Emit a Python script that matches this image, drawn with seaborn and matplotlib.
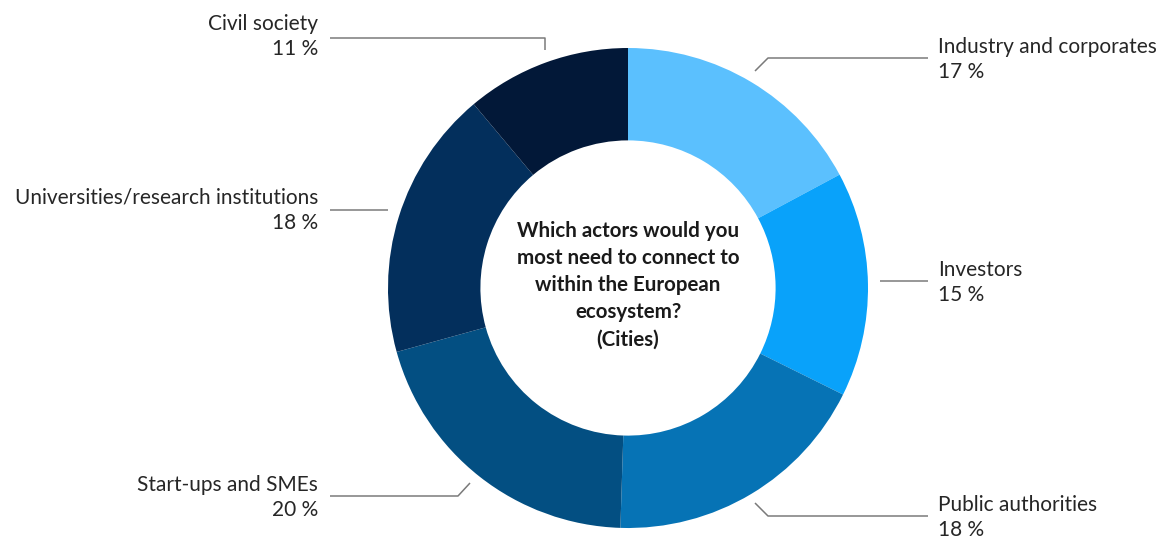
import matplotlib
matplotlib.use("Agg")
import matplotlib.pyplot as plt
import seaborn as sns

# Survey shares, clockwise from 12 o'clock
categories = ["Industry and corporates", "Investors", "Public authorities",
              "Start-ups and SMEs", "Universities/research institutions", "Civil society"]
shares = [17, 15, 18, 20, 18, 11]
colors = ["#5bc0fe", "#09a2fa", "#0673b5", "#034f82", "#032f5c", "#021838"]
center_title = "Which actors would you\nmost need to connect to\nwithin the European\necosystem?\n(Cities)"

sns.set_theme(style="white")
plt.rcParams["font.family"] = ["Lato", "DejaVu Sans"]

W, H = 1170, 538
fig = plt.figure(figsize=(W / 100, H / 100), dpi=100)
ax = fig.add_axes([0, 0, 1, 1])
ax.set_xlim(0, W)
ax.set_ylim(0, H)
ax.set_aspect("equal")
ax.axis("off")

cx, cy = 628, H - 288
R = 240
ax.pie(shares, colors=colors, startangle=90, counterclock=False,
       center=(cx, cy), radius=R,
       wedgeprops=dict(width=R * 0.385, linewidth=0))
ax.set_xlim(0, W)
ax.set_ylim(0, H)

ax.text(cx, cy + 3, center_title, ha="center", va="center", fontsize=14.8,
        fontweight="bold", color="#1a1a1a", linespacing=1.45)

line_kw = dict(color="#7a7a7a", lw=1.1, solid_capstyle="butt")
txt_kw = dict(fontsize=15, color="#262626")

def py(y):
    return H - y

# (label x, label anchor, first-line centre y, leader polyline in pixel coords)
layout = [
    (938, "left", 47, [(755, 71), (768, 58), (928, 58)]),
    (938, "left", 270, [(880, 281), (928, 281)]),
    (938, "left", 505, [(755, 503), (768, 516), (928, 516)]),
    (318, "right", 485, [(470, 483), (458, 496), (330, 496)]),
    (318, "right", 198, [(388, 210), (330, 210)]),
    (318, "right", 24, [(545, 50), (545, 38), (330, 38)]),
]

for name, val, (lx, ha, ty, pts) in zip(categories, shares, layout):
    xs = [p[0] for p in pts]
    ys = [py(p[1]) for p in pts]
    ax.plot(xs, ys, **line_kw)
    ax.text(lx, py(ty), name, ha=ha, va="center", **txt_kw)
    ax.text(lx, py(ty + 25), f"{val} %", ha=ha, va="center", **txt_kw)

fig.savefig("out.png", dpi=100, facecolor="white")
